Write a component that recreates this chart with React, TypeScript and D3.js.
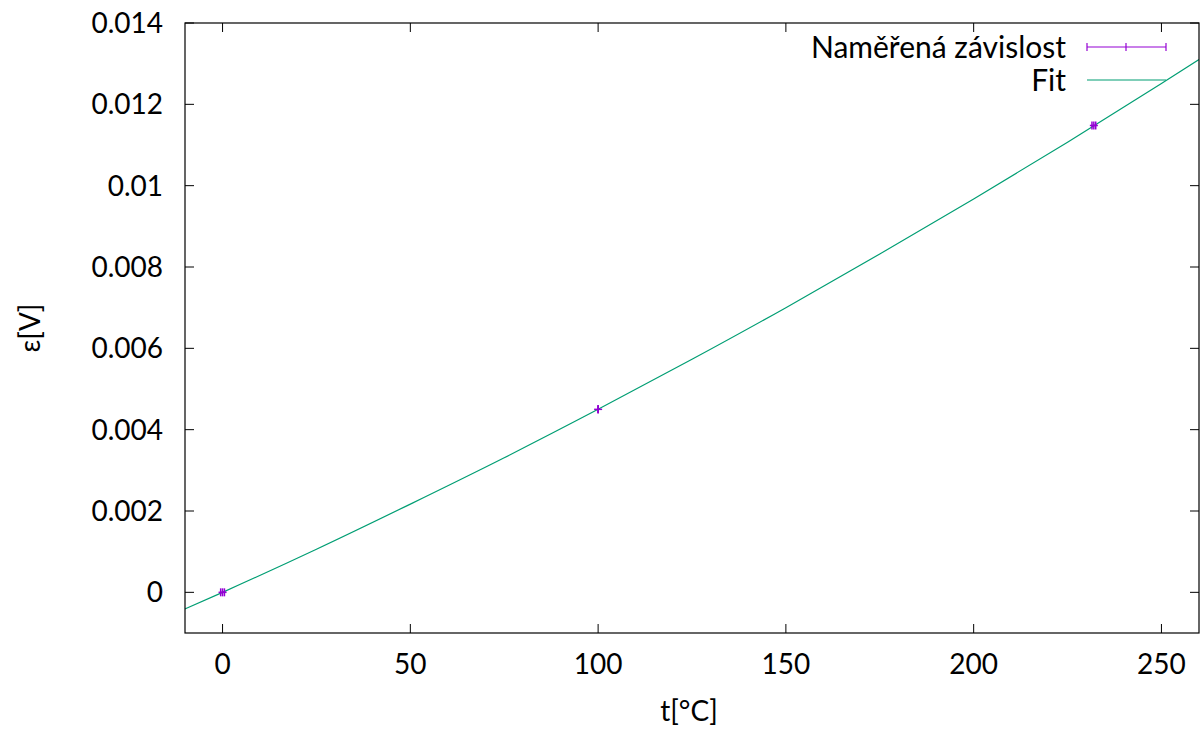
import React from 'react';
import * as d3 from 'd3';

// measured points (t in °C, emf in V) with small error bars
const measT = [0, 100, 232];
const measE = [0, 0.0045, 0.01148];
const measDT = [0.5, 0, 0.5];
const measDE = [0.00001, 0.00001, 0.00001];

// fit curve
const fitT = [-10, 0, 25, 50, 75, 100, 125, 150, 175, 200, 225, 250, 260];
const fitE = [-0.00041, 0, 0.00106, 0.00217, 0.00331, 0.0045, 0.00573, 0.007, 0.00832, 0.00967, 0.01107, 0.01251, 0.0131];

const xTicks = [0, 50, 100, 150, 200, 250];
const yTicks = [0, 0.002, 0.004, 0.006, 0.008, 0.01, 0.012, 0.014];

const W = 1204;
const H = 734;
const margin = { top: 23, right: 5, bottom: 101, left: 185 };
const font = 'Lato, "Open Sans", sans-serif';
const purple = '#9400d3';
const teal = '#009e73';

const App = () => {
    const x = d3.scaleLinear().domain([-10, 260]).range([margin.left, W - margin.right]);
    const y = d3.scaleLinear().domain([-0.001, 0.014]).range([H - margin.bottom, margin.top]);
    const x0 = margin.left, x1 = W - margin.right, y0 = H - margin.bottom, y1 = margin.top;
    const tick = 9;

    const line = d3.line<number>()
        .x((d, i) => x(fitT[i]))
        .y(d => y(d))
        .curve(d3.curveMonotoneX);

    const yFmt = (v: number) => (v === 0 ? '0' : String(+v.toFixed(3)));

    return (
        <svg width={W} height={H} style={{ position: 'absolute', left: 0, top: 0, background: '#fff' }}>
            <defs>
                <clipPath id="plot">
                    <rect x={x0} y={y1} width={x1 - x0} height={y0 - y1} />
                </clipPath>
            </defs>

            {/* ticks, mirrored on all sides */}
            <g stroke="#000" strokeWidth={1}>
                {xTicks.map(t => (
                    <g key={'xt' + t}>
                        <line x1={x(t)} x2={x(t)} y1={y0} y2={y0 - tick} />
                        <line x1={x(t)} x2={x(t)} y1={y1} y2={y1 + tick} />
                    </g>
                ))}
                {yTicks.map(t => (
                    <g key={'yt' + t}>
                        <line x1={x0} x2={x0 + tick} y1={y(t)} y2={y(t)} />
                        <line x1={x1} x2={x1 - tick} y1={y(t)} y2={y(t)} />
                    </g>
                ))}
            </g>

            {/* tick labels */}
            <g fontFamily={font} fontSize={28} fill="#000">
                {xTicks.map(t => (
                    <text key={'xl' + t} x={x(t)} y={y0 + 41} textAnchor="middle">{t}</text>
                ))}
                {yTicks.map(t => (
                    <text key={'yl' + t} x={x0 - 22} y={y(t)} dy="0.36em" textAnchor="end">{yFmt(t)}</text>
                ))}
            </g>

            {/* axis titles */}
            <text x={689} y={H - 13} textAnchor="middle" fontFamily={font} fontSize={28}>t[°C]</text>
            <text transform={`translate(40,${(y0 + y1) / 2}) rotate(-90)`} textAnchor="middle"
                fontFamily={font} fontSize={28}>ε[V]</text>

            {/* fit curve */}
            <path d={line(fitE) || ''} fill="none" stroke={teal} strokeWidth={1.2} clipPath="url(#plot)" />

            {/* measured points with error bars */}
            <g stroke={purple} strokeWidth={1.5}>
                {measT.map((t, i) => {
                    const cx = x(t), cy = y(measE[i]);
                    const xl = x(t - measDT[i]), xr = x(t + measDT[i]);
                    const yt = y(measE[i] + measDE[i]), yb = y(measE[i] - measDE[i]);
                    return (
                        <g key={'m' + i}>
                            <line x1={xl} x2={xr} y1={cy} y2={cy} />
                            <line x1={xl} x2={xl} y1={cy - 4} y2={cy + 4} />
                            <line x1={xr} x2={xr} y1={cy - 4} y2={cy + 4} />
                            <line x1={cx} x2={cx} y1={yt} y2={yb} />
                            <line x1={cx - 4} x2={cx + 4} y1={cy} y2={cy} />
                            <line x1={cx} x2={cx} y1={cy - 4} y2={cy + 4} />
                        </g>
                    );
                })}
            </g>

            {/* legend */}
            <g fontFamily={font} fontSize={30}>
                <text x={1066} y={47} dy="0.36em" textAnchor="end">Naměřená závislost</text>
                <g stroke={purple} strokeWidth={1.2}>
                    <line x1={1087} x2={1166} y1={47} y2={47} />
                    <line x1={1087} x2={1087} y1={43} y2={51} />
                    <line x1={1166} x2={1166} y1={43} y2={51} />
                    <line x1={1126} x2={1126} y1={43} y2={51} />
                </g>
                <text x={1066} y={80} dy="0.36em" textAnchor="end">Fit</text>
                <line x1={1087} x2={1166} y1={80} y2={80} stroke={teal} strokeWidth={1.2} />
            </g>

            {/* frame */}
            <rect x={x0} y={y1} width={x1 - x0} height={y0 - y1} fill="none" stroke="#000" strokeWidth={1.2} />
        </svg>
    );
};

export default App;
